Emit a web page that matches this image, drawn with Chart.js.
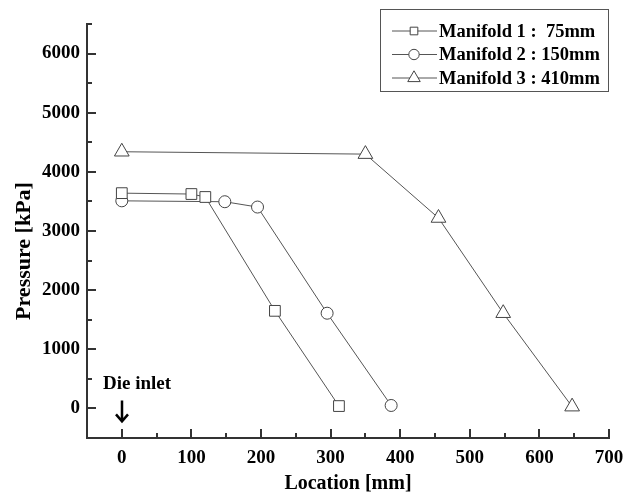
<!DOCTYPE html>
<html>
<head>
  <title>Pressure along the die</title>
  <script src="https://cdn.jsdelivr.net/npm/chart.js"></script>
  <style>
    body { margin: 0; background: #fff; }
    #wrap { width: 636px; height: 494px; }
  </style>
</head>
<body>
<div id="wrap"><canvas id="pressureChart"></canvas></div>
<script>
  // ====================
  // Measured pressure along each manifold
  // ====================
  const m1Location = [0, 100, 120, 220, 312];
  const m1Pressure = [3640, 3625, 3575, 1650, 40];
  const m2Location = [0, 148, 195, 295, 387];
  const m2Pressure = [3510, 3495, 3405, 1610, 50];
  const m3Location = [0, 350, 455, 548, 647];
  const m3Pressure = [4340, 4300, 3220, 1610, 30];

  const seriesLabels = ['Manifold 1 :  75mm', 'Manifold 2 : 150mm', 'Manifold 3 : 410mm'];
  const xTicks = [0, 100, 200, 300, 400, 500, 600, 700];
  const yTicks = [0, 1000, 2000, 3000, 4000, 5000, 6000];

  const SERIF = "'Liberation Serif', 'Times New Roman', serif";
  const INK = '#000';
  const AXIS = '#333';

  const toPoints = (xs, ys) => xs.map((x, i) => ({ x: x, y: ys[i] }));

  function series(label, xs, ys, style, radius) {
    return {
      label: label,
      data: toPoints(xs, ys),
      showLine: true,
      borderColor: '#555',
      borderWidth: 1,
      pointStyle: style,
      pointRadius: radius,
      pointBackgroundColor: '#fff',
      pointBorderColor: '#444',
      pointBorderWidth: 1
    };
  }

  // inward tick marks, legend box, "Die inlet" note and the y title
  const decorations = {
    id: 'decorations',
    afterDraw(chart) {
      const ctx = chart.ctx;
      const xs = chart.scales.x, ys = chart.scales.y;
      const area = chart.chartArea;

      ctx.save();
      ctx.strokeStyle = AXIS;
      ctx.lineWidth = 2;
      ctx.beginPath();
      xTicks.forEach(v => {
        const px = Math.round(xs.getPixelForValue(v));
        ctx.moveTo(px, area.bottom); ctx.lineTo(px, area.bottom - 9);
      });
      xTicks.slice(0, -1).forEach(v => {
        const px = Math.round(xs.getPixelForValue(v + 50));
        ctx.moveTo(px, area.bottom); ctx.lineTo(px, area.bottom - 5);
      });
      yTicks.forEach(v => {
        const py = Math.round(ys.getPixelForValue(v));
        ctx.moveTo(area.left, py); ctx.lineTo(area.left + 9, py);
      });
      yTicks.forEach(v => {
        const py = Math.round(ys.getPixelForValue(v + 500));
        ctx.moveTo(area.left, py); ctx.lineTo(area.left + 5, py);
      });
      ctx.stroke();

      // y axis title
      ctx.fillStyle = INK;
      ctx.font = 'bold 22px ' + SERIF;
      ctx.textAlign = 'center';
      ctx.textBaseline = 'middle';
      ctx.translate(24, 251);
      ctx.rotate(-Math.PI / 2);
      ctx.fillText('Pressure [kPa]', 0, 0);
      ctx.restore();

      // "Die inlet" with arrow at x = 0
      const x0 = Math.round(xs.getPixelForValue(0));
      const y0 = ys.getPixelForValue(0);
      ctx.save();
      ctx.fillStyle = INK;
      ctx.font = 'bold 19px ' + SERIF;
      ctx.textAlign = 'left';
      ctx.textBaseline = 'alphabetic';
      ctx.fillText('Die inlet', x0 - 19, y0 - 19);
      ctx.strokeStyle = INK;
      ctx.lineWidth = 2.5;
      ctx.beginPath();
      ctx.moveTo(x0, y0 - 8); ctx.lineTo(x0, y0 + 13);
      ctx.moveTo(x0 - 6, y0 + 6); ctx.lineTo(x0, y0 + 13); ctx.lineTo(x0 + 6, y0 + 6);
      ctx.stroke();
      ctx.restore();

      // legend box
      const lg = { left: 380, top: 9, width: 228, height: 82 };
      const legendRadius = [5.4, 5.2, 7.2];
      ctx.save();
      ctx.strokeStyle = '#555';
      ctx.lineWidth = 1;
      ctx.strokeRect(lg.left + 0.5, lg.top + 0.5, lg.width, lg.height);
      chart.data.datasets.forEach((ds, i) => {
        const cy = 31 + i * 23.5;
        ctx.strokeStyle = '#555';
        ctx.lineWidth = 1;
        ctx.beginPath();
        ctx.moveTo(392, cy); ctx.lineTo(437, cy);
        ctx.stroke();
        ctx.fillStyle = '#fff';
        ctx.strokeStyle = '#444';
        Chart.helpers.drawPoint(ctx, {
          pointStyle: ds.pointStyle, radius: legendRadius[i], rotation: 0, borderWidth: 1
        }, 414, cy);
        ctx.fillStyle = INK;
        ctx.font = 'bold 18.5px ' + SERIF;
        ctx.textAlign = 'left';
        ctx.textBaseline = 'middle';
        ctx.fillText(ds.label, 439, cy + 1);
      });
      ctx.restore();
    }
  };

  new Chart(document.getElementById('pressureChart'), {
    type: 'scatter',
    data: {
      datasets: [
        series(seriesLabels[0], m1Location, m1Pressure, 'rect', 7.6),
        series(seriesLabels[1], m2Location, m2Pressure, 'circle', 6),
        series(seriesLabels[2], m3Location, m3Pressure, 'triangle', 8.5)
      ]
    },
    options: {
      responsive: true,
      maintainAspectRatio: false,
      animation: false,
      layout: { padding: { top: 24, right: 27, left: 0, bottom: 0 } },
      plugins: {
        legend: { display: false },
        tooltip: { enabled: false }
      },
      scales: {
        x: {
          type: 'linear',
          min: -50,
          max: 700,
          afterBuildTicks: scale => { scale.ticks = xTicks.map(v => ({ value: v })); },
          afterFit: scale => { scale.height = 56; },
          grid: { display: false, drawTicks: false },
          border: { display: true, color: AXIS, width: 2 },
          ticks: {
            padding: 9,
            color: INK,
            maxRotation: 0,
            callback: v => String(v),
            font: { family: SERIF, size: 19, weight: 'bold' }
          },
          title: {
            display: true,
            text: 'Location [mm]',
            color: INK,
            padding: { top: 0, bottom: 0 },
            font: { family: SERIF, size: 20, weight: 'bold', lineHeight: 1.0 }
          }
        },
        y: {
          type: 'linear',
          min: -500,
          max: 6500,
          afterBuildTicks: scale => { scale.ticks = yTicks.map(v => ({ value: v })); },
          afterFit: scale => { scale.width = 87; },
          grid: { display: false, drawTicks: false },
          border: { display: true, color: AXIS, width: 2 },
          ticks: {
            padding: 7,
            color: INK,
            callback: v => String(v),
            font: { family: SERIF, size: 19, weight: 'bold' }
          }
        }
      }
    },
    plugins: [decorations]
  });
</script>
</body>
</html>
